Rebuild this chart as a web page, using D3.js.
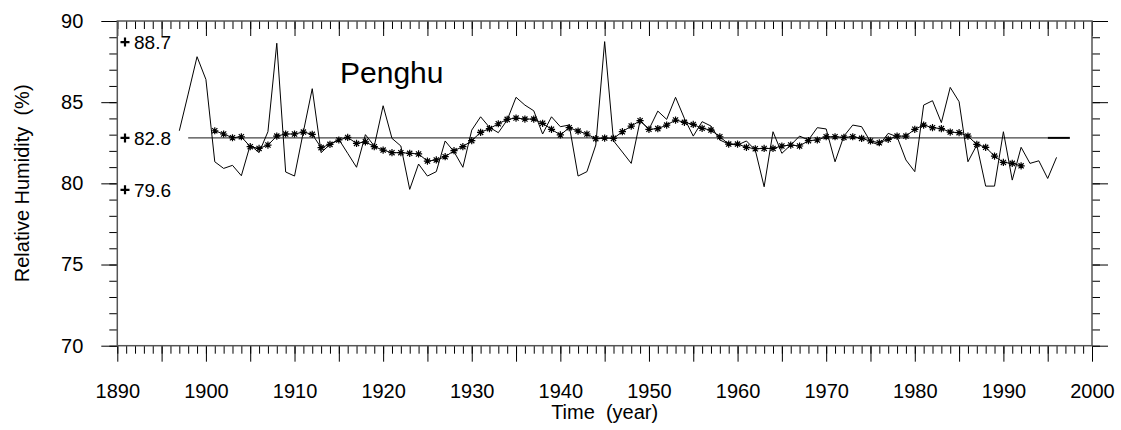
<!DOCTYPE html>
<html><head><meta charset="utf-8">
<script src="https://cdn.jsdelivr.net/npm/d3@7"></script>
<style>
body{margin:0;background:#fff;}
text{font-family:"Liberation Sans",Arial,sans-serif;fill:#000;white-space:pre;}
</style></head>
<body>
<svg id="chart" width="1121" height="430"></svg>
<script>
const annualYears = d3.range(1897, 1997);
const annualValues = [
 83.24,85.5,87.8,86.4,81.33,80.92,81.11,80.47,82.36,81.89,
 83.18,88.63,80.70,80.45,83.18,85.83,81.89,82.40,82.71,81.85,
 80.99,83.00,82.30,84.78,82.77,82.30,79.63,81.19,80.45,80.72,
 82.61,81.95,80.99,83.28,84.10,83.45,83.12,83.90,85.30,84.82,
 84.47,83.04,84.10,83.49,83.59,80.45,80.72,82.36,88.73,82.62,
 81.93,81.23,83.86,83.33,84.45,83.94,85.30,84.00,82.91,83.80,
 83.53,82.67,82.42,82.36,82.61,82.05,79.79,83.18,81.85,82.36,
 82.91,82.67,83.43,83.35,81.33,82.91,83.59,83.49,82.56,82.36,
 83.08,82.87,81.44,80.72,84.82,85.09,83.74,85.91,85.03,81.33,
 82.36,79.83,79.83,83.18,80.20,82.22,81.23,81.39,80.30,81.60
];
const smoothYears = d3.range(1901, 1993);
const smoothValues = [
 83.24,83.04,82.81,82.87,82.26,82.15,82.36,82.91,83.04,83.04,
 83.16,83.02,82.20,82.40,82.67,82.83,82.46,82.56,82.26,82.05,
 81.89,81.89,81.85,81.81,81.37,81.44,81.64,82.01,82.26,82.63,
 83.14,83.37,83.67,83.94,84.02,83.96,83.96,83.70,83.33,82.98,
 83.43,83.22,83.04,82.75,82.79,82.77,83.18,83.53,83.86,83.33,
 83.37,83.59,83.90,83.76,83.63,83.39,83.28,82.87,82.42,82.42,
 82.22,82.13,82.15,82.15,82.30,82.36,82.30,82.63,82.67,82.87,
 82.87,82.83,82.87,82.77,82.61,82.50,82.71,82.91,82.91,83.33,
 83.59,83.43,83.37,83.16,83.12,82.91,82.40,82.22,81.68,81.29,
 81.23,81.08
];
const meanValue = 82.8;
const meanSpan = [1898, 1995];
const meanTail = [1995, 1997.5];
const markValues = [88.7, 82.8, 79.6];
const markLabels = ["88.7", "82.8", "79.6"];
const xLabelTicks = d3.range(1890, 2001, 10);
const xMajorTicks = d3.range(1890, 2001, 5);
const xMinorTicks = d3.range(1890, 2001, 1);
const yLabelTicks = [70, 75, 80, 85, 90];
const yMinorTicks = d3.range(70, 91, 1);
const titleText = "Penghu";
const xTitle = "Time  (year)";
const yTitle = "Relative Humidity  (%)";

const svg = d3.select("#chart");
const x = d3.scaleLinear().domain([1890, 2000]).range([117.3, 1092]);
const y = d3.scaleLinear().domain([70, 90]).range([345.7, 21]);
const X0 = x.range()[0], X1 = x.range()[1], Y0 = y.range()[0], Y1 = y.range()[1];
const FF = '"Liberation Sans",Arial,sans-serif';

function styleAxis(g){
  g.select(".domain").remove();
  g.selectAll(".tick line").attr("stroke","#000").attr("stroke-width",1);
}
// bottom
svg.append("g").attr("transform",`translate(0,${Y0})`)
  .call(d3.axisBottom(x).tickValues(xMinorTicks).tickSize(8).tickFormat(""))
  .call(styleAxis);
svg.append("g").attr("transform",`translate(0,${Y0})`)
  .call(d3.axisBottom(x).tickValues(xMajorTicks).tickSize(16).tickFormat(""))
  .call(styleAxis);
svg.append("g").attr("transform",`translate(0,${Y0})`)
  .call(d3.axisBottom(x).tickValues(xLabelTicks).tickSize(0).tickPadding(0).tickFormat(d3.format("d")))
  .call(g=>{g.select(".domain").remove();
    g.selectAll("text").attr("y",52).attr("dy",0).attr("font-size",20).style("font-family",FF);});
// top
svg.append("g").attr("transform",`translate(0,${Y1})`)
  .call(d3.axisTop(x).tickValues(xMinorTicks).tickSize(-8).tickFormat(""))
  .call(styleAxis);
svg.append("g").attr("transform",`translate(0,${Y1})`)
  .call(d3.axisTop(x).tickValues(xMajorTicks).tickSize(-15).tickFormat(""))
  .call(styleAxis);
// left
svg.append("g").attr("transform",`translate(${X0},0)`)
  .call(d3.axisLeft(y).tickValues(yMinorTicks).tickSize(8).tickFormat(""))
  .call(styleAxis);
svg.append("g").attr("transform",`translate(${X0},0)`)
  .call(d3.axisLeft(y).tickValues(yLabelTicks).tickSize(16).tickPadding(18).tickFormat(d3.format("d")))
  .call(styleAxis)
  .call(g=>g.selectAll("text").attr("font-size",20).style("font-family",FF));
// right
svg.append("g").attr("transform",`translate(${X1},0)`)
  .call(d3.axisRight(y).tickValues(yMinorTicks).tickSize(8).tickFormat(""))
  .call(styleAxis);
svg.append("g").attr("transform",`translate(${X1},0)`)
  .call(d3.axisRight(y).tickValues(yLabelTicks).tickSize(16).tickFormat(""))
  .call(styleAxis);
// frame
svg.append("rect").attr("x",X0).attr("y",Y1).attr("width",X1-X0).attr("height",Y0-Y1)
  .attr("fill","none").attr("stroke","#555").attr("stroke-width",1.5);

// mean line
svg.append("line").attr("x1",x(meanSpan[0])).attr("x2",x(meanSpan[1]))
  .attr("y1",y(meanValue)).attr("y2",y(meanValue)).attr("stroke","#444").attr("stroke-width",1.3);
svg.append("line").attr("x1",x(meanTail[0])).attr("x2",x(meanTail[1]))
  .attr("y1",y(meanValue)).attr("y2",y(meanValue)).attr("stroke","#000").attr("stroke-width",2);

// annual line
const annual = annualYears.map((yr,i)=>[yr,annualValues[i]]);
svg.append("path").datum(annual)
  .attr("d",d3.line().x(d=>x(d[0])).y(d=>y(d[1])))
  .attr("fill","none").attr("stroke","#000").attr("stroke-width",1);

// smoothed
const smooth = smoothYears.map((yr,i)=>[yr,smoothValues[i]]);
svg.append("path").datum(smooth)
  .attr("d",d3.line().x(d=>x(d[0])).y(d=>y(d[1])))
  .attr("fill","none").attr("stroke","#000").attr("stroke-width",1);
const r = 3.6, q = r*0.72;
const astPath = `M${-r},0H${r}M0,${-r}V${r}M${-q},${-q}L${q},${q}M${-q},${q}L${q},${-q}`;
svg.append("g").selectAll("path").data(smooth).join("path")
  .attr("transform",d=>`translate(${x(d[0])},${y(d[1])})`)
  .attr("d",astPath).attr("fill","none").attr("stroke","#000").attr("stroke-width",1.2);

// marks on left
const mg = svg.append("g");
markValues.forEach((v,i)=>{
  const yy = y(v);
  mg.append("path").attr("d",`M120.5,${yy}H129.5M125,${yy-4.5}V${yy+4.5}`)
    .attr("stroke","#000").attr("stroke-width",2.2);
  mg.append("text").attr("x",134).attr("y",yy).attr("dy","0.36em")
    .attr("font-size",19).text(markLabels[i]);
});

// title
svg.append("text").attr("x",340).attr("y",83).attr("font-size",30).text(titleText);
// axis titles
svg.append("text").attr("x",(X0+X1)/2).attr("y",419).attr("text-anchor","middle")
  .attr("font-size",20).text(xTitle);
svg.append("text").attr("transform",`translate(29,${(Y0+Y1)/2}) rotate(-90)`)
  .attr("text-anchor","middle").attr("font-size",20).text(yTitle);
</script>
</body></html>
